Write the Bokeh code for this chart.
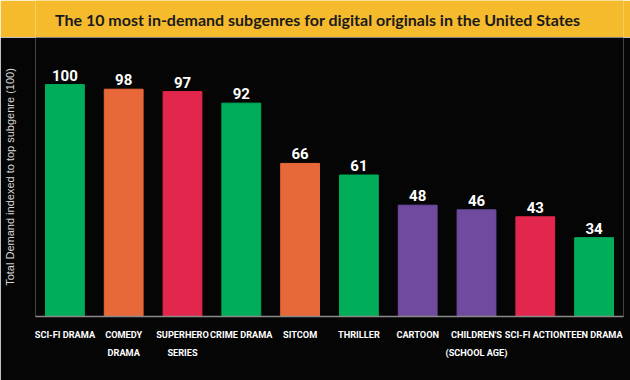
from bokeh.plotting import figure
from bokeh.layouts import column
from bokeh.models import ColumnDataSource, Label, LabelSet, FixedTicker
from bokeh.core.properties import value
from bokeh.embed import file_html
from bokeh.resources import INLINE

TITLE = "The 10 most in-demand subgenres for digital originals in the United States"
subgenres = ["SCI-FI DRAMA", "COMEDY\nDRAMA", "SUPERHERO\nSERIES", "CRIME DRAMA", "SITCOM",
             "THRILLER", "CARTOON", "CHILDREN'S\n(SCHOOL AGE)", "SCI-FI ACTION", "TEEN DRAMA"]
demand = [100, 98, 97, 92, 66, 61, 48, 46, 43, 34]

GREEN, ORANGE, RED, PURPLE = "#00AE5A", "#E8683A", "#E2264C", "#6F4A9F"
bar_colors = [GREEN, ORANGE, RED, GREEN, ORANGE, GREEN, PURPLE, PURPLE, RED, GREEN]
YELLOW = "#F6BB2D"
BG = "#050505"
COND = "Roboto"

banner = figure(width=630, height=37, x_range=(0, 1), y_range=(0, 1),
                x_axis_type=None, y_axis_type=None, output_backend="svg",
                toolbar_location=None, min_border=0,
                background_fill_color=YELLOW, border_fill_color=YELLOW,
                outline_line_color=None)
banner.grid.visible = False
banner.add_layout(Label(x=0.48, y=0.5, text=TITLE, text_align="center",
                        text_baseline="middle", text_font="Lato",
                        text_font_style="bold", text_font_size="16px",
                        text_color="#1a1a1a"))

src = ColumnDataSource(dict(sub=subgenres, val=demand, color=bar_colors,
                            lab=[str(v) for v in demand]))

p = figure(width=630, height=343, x_range=subgenres, y_range=(0, 120.3),
           output_backend="svg", toolbar_location=None,
           background_fill_color=BG, border_fill_color=BG, outline_line_color=None,
           min_border_top=0, min_border_right=7, min_border_left=35,
           min_border_bottom=64)
p.vbar(x="sub", top="val", width=0.66, color="color", source=src)
p.add_layout(LabelSet(x="sub", y="val", text="lab", source=src, y_offset=4,
                      text_align="center", text_baseline="bottom",
                      text_color="white", text_font=value(COND),
                      text_font_style="bold", text_font_size="15px"))

p.grid.visible = False
xa = p.xaxis[0]
xa.axis_line_color = "#8a8a8a"
xa.axis_line_width = 1.5
xa.major_tick_line_color = None
xa.minor_tick_line_color = None
xa.major_label_standoff = 6
xa.major_label_text_color = "white"
xa.major_label_text_font = COND
xa.major_label_text_font_style = "bold"
xa.major_label_text_font_size = "9.2px"
xa.major_label_text_line_height = 1.7

ya = p.yaxis[0]
ya.ticker = FixedTicker(ticks=[])
ya.axis_line_color = None
ya.major_tick_line_color = None
ya.minor_tick_line_color = None
ya.major_tick_out = 0
ya.major_label_standoff = 0
ya.major_label_text_font_size = "0px"
ya.axis_label = "Total Demand indexed to top subgenre (100)"
ya.axis_label_text_font = "Liberation Sans"
ya.axis_label_text_font_style = "normal"
ya.axis_label_text_font_size = "11px"
ya.axis_label_text_color = "#d8d8d8"
ya.axis_label_standoff = 20

layout = column(banner, p, spacing=0)
open("out.html", "w").write(file_html(layout, INLINE))
